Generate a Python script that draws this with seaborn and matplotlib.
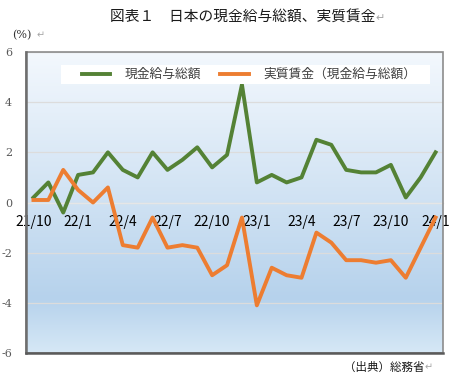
import numpy as np
import pandas as pd
import matplotlib
matplotlib.use("Agg")
import matplotlib.pyplot as plt
from matplotlib.lines import Line2D
from matplotlib.patches import Rectangle
from matplotlib.colors import LinearSegmentedColormap
import seaborn as sns

# ---- data ----
months = ["21/10", "21/11", "21/12",
          "22/1", "22/2", "22/3", "22/4", "22/5", "22/6", "22/7", "22/8", "22/9",
          "22/10", "22/11", "22/12",
          "23/1", "23/2", "23/3", "23/4", "23/5", "23/6", "23/7", "23/8", "23/9",
          "23/10", "23/11", "23/12", "24/1"]
nominal = [0.2, 0.8, -0.4, 1.1, 1.2, 2.0, 1.3, 1.0, 2.0, 1.3, 1.7, 2.2,
           1.4, 1.9, 4.7, 0.8, 1.1, 0.8, 1.0, 2.5, 2.3, 1.3, 1.2, 1.2,
           1.5, 0.2, 1.0, 2.0]
real = [0.1, 0.1, 1.3, 0.5, 0.0, 0.6, -1.7, -1.8, -0.6, -1.8, -1.7, -1.8,
        -2.9, -2.5, -0.6, -4.1, -2.6, -2.9, -3.0, -1.2, -1.6, -2.3, -2.3, -2.4,
        -2.3, -3.0, -1.8, -0.6]
series_names = ["現金給与総額", "実質賃金（現金給与総額）"]
shown_ticks = ["21/10", "22/1", "22/4", "22/7", "22/10", "23/1", "23/4",
               "23/7", "23/10", "24/1"]
yticks = [-6, -4, -2, 0, 2, 4, 6]
title = "図表１　日本の現金給与総額、実質賃金"
ylabel_txt = "(%)"
source_txt = "（出典）総務省"

green = "#548235"
orange = "#ED7D31"

plt.rcParams['font.family'] = ['Noto Sans CJK JP', 'DejaVu Sans']

df = pd.DataFrame({
    "idx": list(range(len(months))) * 2,
    "value": nominal + real,
    "series": [series_names[0]] * len(months) + [series_names[1]] * len(months),
})

W, H = 457, 383
AX_L, AX_R, AX_T, AX_B = 26, 443, 52, 353
AW, AH = AX_R - AX_L, AX_B - AX_T
fig = plt.figure(figsize=(W / 100, H / 100), dpi=100)
fig.patch.set_facecolor("white")
ax = fig.add_axes([AX_L / W, 1 - AX_B / H, AW / W, AH / H])

def ax_x(px):
    return (px - AX_L) / AW

def ax_y(py):
    return (AX_B - py) / AH

# gradient background
cmap = LinearSegmentedColormap.from_list(
    "bg", [(0.0, "#f3f8fd"), (0.45, "#d3e4f4"), (0.82, "#b6d2ec"), (1.0, "#d6e8f6")])
grad = np.linspace(0, 1, 256).reshape(-1, 1)
ax.imshow(grad, extent=(0, 1, 0, 1), transform=ax.transAxes, aspect="auto",
          cmap=cmap, origin="upper", zorder=0, interpolation="bilinear")

sns.lineplot(data=df, x="idx", y="value", hue="series",
             palette={series_names[0]: green, series_names[1]: orange},
             linewidth=2.8, ax=ax, legend=False, zorder=3)

ax.set_xlim(-0.5, len(months) - 0.5)
ax.set_ylim(-6, 6)
ax.set_xlabel("")
ax.set_ylabel("")

# grid
ax.set_yticks(yticks)
ax.set_yticklabels([str(v) for v in yticks], family="DejaVu Serif",
                   fontsize=8, color="#595959")
ax.yaxis.grid(True, color="#dcdcdc", linewidth=0.9, zorder=1)
ax.set_axisbelow(True)
ax.tick_params(axis="y", length=0, pad=10)

# x axis at zero
tick_pos = [months.index(m) for m in shown_ticks]
ax.set_xticks(tick_pos)
ax.set_xticklabels(shown_ticks, family="DejaVu Serif", fontsize=8, color="#595959")
ax.spines["bottom"].set_position(("data", 0))
ax.spines["bottom"].set_color("#e6e6e6")
ax.spines["bottom"].set_linewidth(1.0)
ax.spines["bottom"].set_zorder(2)
ax.tick_params(axis="x", length=0, pad=9)

for s in ["left", "top", "right"]:
    ax.spines[s].set_visible(False)

# frame
ax.add_patch(Rectangle((0, 0), 1, 1, transform=ax.transAxes, fill=False,
                       edgecolor="#8c8c8c", linewidth=1.2, clip_on=False, zorder=6))
ax.plot([0, 0], [0, 1], transform=ax.transAxes, color="#6e6e6e", lw=1.8,
        clip_on=False, zorder=7)
ax.plot([0, 1], [0, 0], transform=ax.transAxes, color="#5a5a5a", lw=1.8,
        clip_on=False, zorder=7)

# legend box
ax.add_patch(Rectangle((ax_x(61), ax_y(84)), ax_x(430) - ax_x(61), ax_y(65) - ax_y(84),
                       transform=ax.transAxes, facecolor="white", edgecolor="none",
                       zorder=7))
handles = [Line2D([], [], color=green, lw=2.8), Line2D([], [], color=orange, lw=2.8)]
leg = ax.legend(handles, series_names, loc="center left", ncol=2,
                bbox_to_anchor=(ax_x(82), ax_y(74.5)),
                borderaxespad=0, frameon=False, fontsize=9.2,
                handlelength=2.2, handletextpad=1.15, borderpad=0,
                columnspacing=1.5)
for t in leg.get_texts():
    t.set_color("#404040")
leg.set_zorder(8)

# title
t = fig.text(110 / W, 1 - 18 / H, title, fontsize=10.6, color="#1a1a1a",
             ha="left", va="center")
ax.annotate("↵", xy=(1, 0.5), xycoords=t, xytext=(0, 0), textcoords="offset points",
            ha="left", va="center", fontsize=8, color="#a6a6a6",
            family=["DejaVu Sans"], annotation_clip=False)

# unit label
u = fig.text(12 / W, 1 - 35 / H, ylabel_txt, fontsize=8, family="DejaVu Serif",
             color="#333333", ha="left", va="center")
ax.annotate("↵", xy=(1, 0.5), xycoords=u, xytext=(4, 0), textcoords="offset points",
            ha="left", va="center", fontsize=7, color="#a6a6a6",
            family=["DejaVu Sans"], annotation_clip=False)

# source
s = fig.text(344 / W, 1 - 367 / H, source_txt, fontsize=8.3, color="#1a1a1a",
             ha="left", va="center")
ax.annotate("↵", xy=(1, 0.5), xycoords=s, xytext=(0, 0), textcoords="offset points",
            ha="left", va="center", fontsize=7, color="#a6a6a6",
            family=["DejaVu Sans"], annotation_clip=False)

fig.savefig("out.png", dpi=100)
